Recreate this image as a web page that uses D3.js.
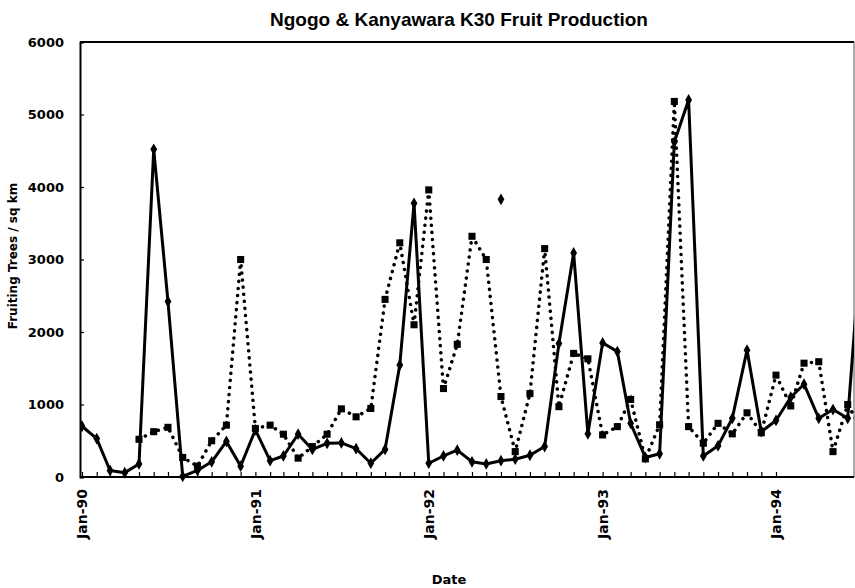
<!DOCTYPE html>
<html>
<head>
<meta charset="utf-8">
<script src="https://cdn.jsdelivr.net/npm/d3@7"></script>
<style>
  body { margin: 0; background: #fff; }
  svg text { fill: #000; }
</style>
</head>
<body>
<svg id="chart"></svg>
<script>
// monthly samples, Jan-90 .. Jul-94
var months = [
  "1990-01","1990-02","1990-03","1990-04","1990-05","1990-06","1990-07","1990-08","1990-09","1990-10","1990-11","1990-12",
  "1991-01","1991-02","1991-03","1991-04","1991-05","1991-06","1991-07","1991-08","1991-09","1991-10","1991-11","1991-12",
  "1992-01","1992-02","1992-03","1992-04","1992-05","1992-06","1992-07","1992-08","1992-09","1992-10","1992-11","1992-12",
  "1993-01","1993-02","1993-03","1993-04","1993-05","1993-06","1993-07","1993-08","1993-09","1993-10","1993-11","1993-12",
  "1994-01","1994-02","1994-03","1994-04","1994-05","1994-06","1994-07"
];

// solid line, diamond markers
var solidValues = [
  700, 530, 90, 60, 180, 4520, 2420, 10, 90, 210, 490, 150,
  650, 225, 290, 590, 380, 465, 470, 390, 190, 380, 1545, 3775,
  190, 290, 370, 210, 180, 225, 245, 300, 420, 1840, 3090, 595,
  1850, 1730, 740, 270, 320, 4620, 5200, 290, 430, 810, 1750, 625,
  780, 1100, 1280, 810, 930, 810, 3400
];

// dotted line, square markers (no record before May-90)
var dottedValues = [
  null, null, null, null, 520, 625, 685, 270, 150, 500, 715, 3000,
  670, 715, 590, 260, 420, 590, 940, 830, 945, 2450, 3230, 2100,
  3960, 1220, 1830, 3320, 3000, 1110, 350, 1150, 3150, 970, 1705, 1630,
  580, 695, 1070, 250, 720, 5180, 695, 465, 740, 595, 885, 610,
  1405, 980, 1570, 1590, 350, 1000, 650
];

// lone marker standing above the lines
var strayMonths = ["1992-06"];
var strayValues = [3830];

var yTicks = [0, 1000, 2000, 3000, 4000, 5000, 6000];
var yearTicks = ["1990-01", "1991-01", "1992-01", "1993-01", "1994-01"];

var svgWidth = 855, svgHeight = 588;
var plotLeft = 80, plotTop = 42, plotRight = 854, plotBottom = 477;

var parseMonth = d3.timeParse("%Y-%m");

var svg = d3.select("svg#chart")
  .attr("width", svgWidth)
  .attr("height", svgHeight)
  .style("font-family", "'DejaVu Sans', sans-serif");

var x = d3.scaleTime()
  .domain([parseMonth("1990-01"), parseMonth("1994-01")])
  .range([82, 776]);

var y = d3.scaleLinear()
  .domain([0, 6000])
  .range([plotBottom, plotTop]);

// title
svg.append("text")
  .attr("x", 459)
  .attr("y", 26)
  .attr("text-anchor", "middle")
  .style("font-family", "'Liberation Sans', Arial, sans-serif")
  .style("font-weight", "bold")
  .style("font-size", "19px")
  .text("Ngogo & Kanyawara K30 Fruit Production");

// frame: heavy top, faint right
svg.append("line")
  .attr("x1", plotLeft).attr("x2", plotRight)
  .attr("y1", plotTop).attr("y2", plotTop)
  .attr("stroke", "#000")
  .attr("stroke-width", 2);

svg.append("line")
  .attr("x1", plotRight).attr("x2", plotRight)
  .attr("y1", plotTop).attr("y2", plotBottom)
  .attr("stroke", "#555")
  .attr("stroke-width", 1);

// y axis
var yAxis = d3.axisLeft(y)
  .tickValues(yTicks)
  .tickSize(-4)
  .tickPadding(16)
  .tickFormat(d3.format("d"));

svg.append("g")
  .attr("class", "y axis")
  .attr("transform", "translate(" + plotLeft + ",0)")
  .call(yAxis)
  .call(function(g) {
    g.select(".domain").attr("stroke-width", 2);
    g.selectAll(".tick line").attr("stroke-width", 1.2);
    g.selectAll(".tick text")
      .style("font-family", "'DejaVu Sans', sans-serif")
      .style("font-weight", "bold")
      .style("font-size", "13px");
  });

// x axis: monthly ticks inside, yearly labels below
var xMinor = d3.axisBottom(x)
  .ticks(d3.timeMonth.every(1))
  .tickSize(-5)
  .tickFormat("");

svg.append("g")
  .attr("class", "x axis minor")
  .attr("transform", "translate(0," + plotBottom + ")")
  .call(xMinor)
  .call(function(g) {
    g.select(".domain").remove();
    g.selectAll(".tick line").attr("stroke-width", 1.2);
  });

var xAxis = d3.axisBottom(x)
  .tickValues(yearTicks.map(parseMonth))
  .tickSize(0)
  .tickFormat(d3.timeFormat("%b-%y"));

svg.append("g")
  .attr("class", "x axis")
  .attr("transform", "translate(0," + plotBottom + ")")
  .call(xAxis)
  .call(function(g) {
    g.select(".domain").attr("d", "M" + plotLeft + ",0H" + plotRight).attr("stroke-width", 2);
    g.selectAll(".tick text")
      .attr("transform", "rotate(-90)")
      .attr("x", -12)
      .attr("y", 0)
      .attr("dy", "0.35em")
      .style("text-anchor", "end")
      .style("font-family", "'DejaVu Sans', sans-serif")
      .style("font-weight", "bold")
      .style("font-size", "14px");
  });

// axis titles
svg.append("text")
  .attr("transform", "translate(17," + 256 + ") rotate(-90)")
  .attr("text-anchor", "middle")
  .style("font-family", "'DejaVu Sans', sans-serif")
  .style("font-weight", "bold")
  .style("font-size", "12px")
  .text("Fruiting Trees / sq km");

svg.append("text")
  .attr("x", 449)
  .attr("y", 584)
  .attr("text-anchor", "middle")
  .style("font-family", "'DejaVu Sans', sans-serif")
  .style("font-weight", "bold")
  .style("font-size", "13px")
  .text("Date");

// plot region clip (last month runs past the edge)
svg.append("clipPath")
  .attr("id", "plot-clip")
  .append("rect")
  .attr("x", plotLeft)
  .attr("y", plotTop - 6)
  .attr("width", plotRight - plotLeft)
  .attr("height", plotBottom - plotTop + 12);

var plot = svg.append("g").attr("clip-path", "url(#plot-clip)");

var solidData = months.map(function(m, i) { return { date: parseMonth(m), value: solidValues[i] }; });
var dottedData = months.map(function(m, i) { return { date: parseMonth(m), value: dottedValues[i] }; });
var strayData = strayMonths.map(function(m, i) { return { date: parseMonth(m), value: strayValues[i] }; });

var line = d3.line()
  .defined(function(d) { return d.value != null; })
  .x(function(d) { return x(d.date); })
  .y(function(d) { return y(d.value); });

plot.append("path")
  .datum(dottedData)
  .attr("d", line)
  .attr("fill", "none")
  .attr("stroke", "#000")
  .attr("stroke-width", 3.5)
  .attr("stroke-linecap", "round")
  .attr("stroke-dasharray", "0.1 7");

plot.append("path")
  .datum(solidData)
  .attr("d", line)
  .attr("fill", "none")
  .attr("stroke", "#000")
  .attr("stroke-width", 3)
  .attr("stroke-linejoin", "round");

var square = d3.symbol().type(d3.symbolSquare).size(50);
var diamond = d3.symbol().type(d3.symbolDiamond).size(40);

plot.selectAll("path.sq")
  .data(dottedData.filter(function(d) { return d.value != null; }))
  .enter().append("path")
  .attr("class", "sq")
  .attr("d", square)
  .attr("fill", "#000")
  .attr("transform", function(d) { return "translate(" + x(d.date) + "," + y(d.value) + ")"; });

plot.selectAll("path.dm")
  .data(solidData.concat(strayData))
  .enter().append("path")
  .attr("class", "dm")
  .attr("d", diamond)
  .attr("fill", "#000")
  .attr("transform", function(d) { return "translate(" + x(d.date) + "," + y(d.value) + ")"; });
</script>
</body>
</html>
